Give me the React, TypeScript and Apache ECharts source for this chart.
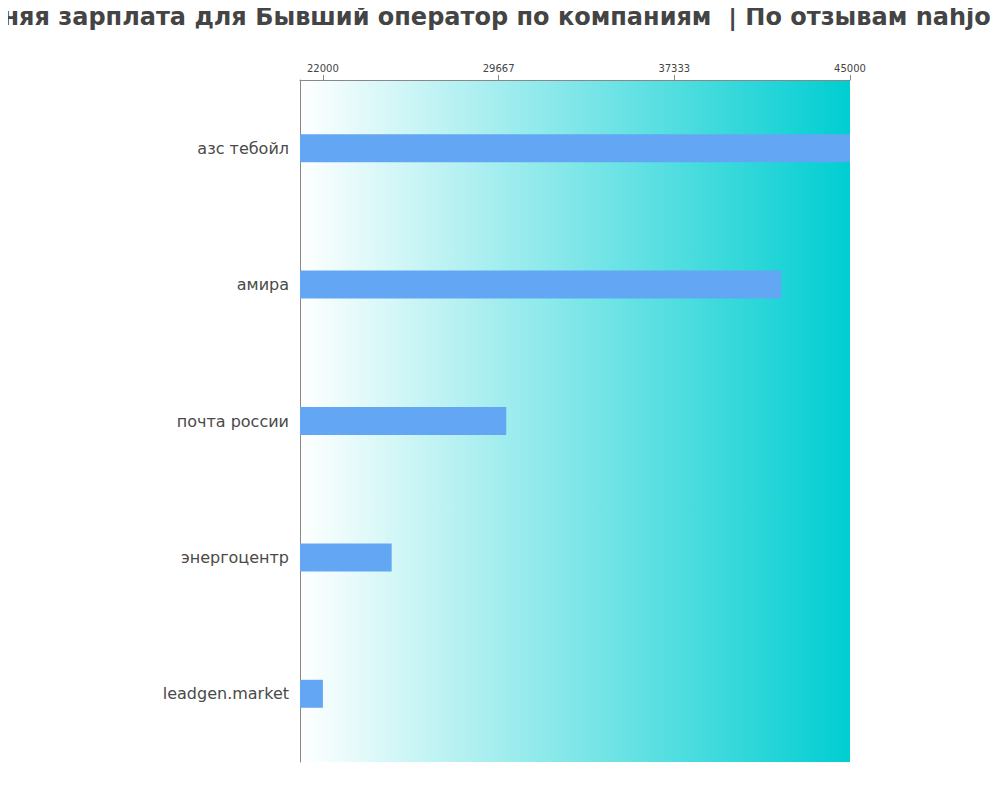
import React, { useEffect, useRef } from 'react';
import * as echarts from 'echarts';

// Данные графика
const companies = ['азс тебойл', 'амира', 'почта россии', 'энергоцентр', 'leadgen.market'];
const salaries = [45000, 42000, 30000, 25000, 22000];
const tickValues = [22000, 29667, 37333, 45000];

const TITLE = 'Средняя зарплата для Бывший оператор по компаниям  | По отзывам nahjob.ru';

const App: React.FC = () => {
  const chartRef = useRef<HTMLDivElement>(null);

  useEffect(() => {
    if (!chartRef.current) return;
    const chart = echarts.init(chartRef.current, undefined, { renderer: 'svg' });

    const option: echarts.EChartsOption = {
      animation: false,
      textStyle: { fontFamily: 'DejaVu Sans' },
      // заголовок шире холста, его центр чуть левее середины
      title: {
        text: TITLE,
        left: 484,
        top: 0,
        textAlign: 'center',
        textStyle: { fontSize: 24, fontWeight: 'bold', color: '#444444', fontFamily: 'DejaVu Sans' },
      },
      grid: {
        left: 300,
        right: 150,
        top: 80,
        bottom: 38,
        show: true,
        borderWidth: 0,
        backgroundColor: new echarts.graphic.LinearGradient(0, 0, 1, 0, [
          { offset: 0, color: '#ffffff' },
          { offset: 1, color: '#00ced1' },
        ]),
      },
      xAxis: {
        type: 'value',
        position: 'top',
        min: 21000,
        max: 45000,
        axisLine: { show: true, lineStyle: { color: '#888888' } },
        axisTick: { show: true, length: 5, customValues: tickValues, lineStyle: { color: '#888888' } },
        axisLabel: {
          customValues: tickValues,
          fontSize: 10,
          color: '#444444',
          margin: 7,
          formatter: (v: number) => String(v),
        },
        splitLine: { show: false },
      },
      yAxis: {
        type: 'category',
        inverse: true,
        data: companies,
        axisLine: { show: true, lineStyle: { color: '#888888' } },
        axisTick: { show: false },
        axisLabel: { fontSize: 16, color: '#4a4a4a', margin: 11 },
      },
      series: [
        {
          type: 'bar',
          data: salaries,
          barWidth: 28,
          itemStyle: { color: '#63a7f4' },
        },
      ],
    };

    chart.setOption(option);
    return () => chart.dispose();
  }, []);

  return <div ref={chartRef} style={{ width: 1000, height: 800, margin: -8 }} />;
};

export default App;
